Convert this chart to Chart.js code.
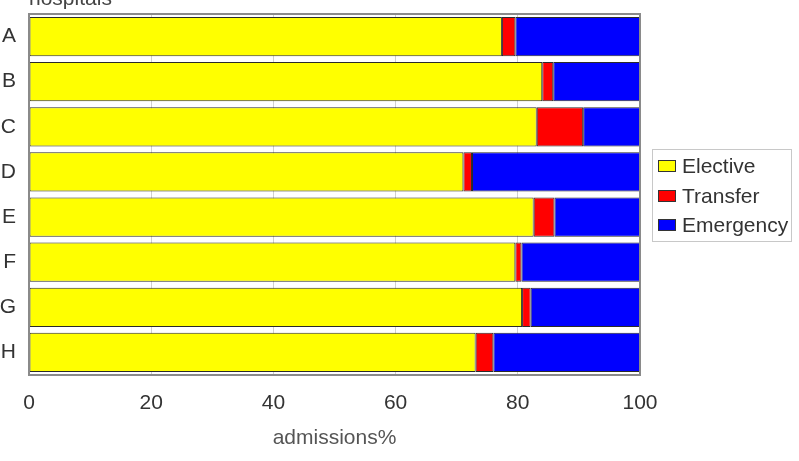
<!DOCTYPE html>
<html>
<head>
<meta charset="utf-8">
<script src="https://cdn.jsdelivr.net/npm/chart.js@4/dist/chart.umd.min.js"></script>
<style>
  html, body { margin: 0; padding: 0; background: #ffffff; }
  #wrap { width: 799px; height: 461px; position: relative; }
</style>
</head>
<body>
<div id="wrap"><canvas id="c" width="799" height="461"></canvas></div>
<script>
const categories = ['A', 'B', 'C', 'D', 'E', 'F', 'G', 'H'];
const elective   = [77.4, 84.0, 83.1, 71.1, 82.6, 79.6, 80.7, 73.1];
const transfer   = [2.2, 1.8, 7.6, 1.4, 3.4, 1.0, 1.4, 2.9];
const emergency  = [20.4, 14.2, 9.3, 27.5, 14.0, 19.4, 17.9, 24.0];
const seriesNames = ['Elective', 'Transfer', 'Emergency'];
const xTicks = [0, 20, 40, 60, 80, 100];
const xTitle = 'admissions%';
const yTitle = 'hospitals';

const FONT = "'Liberation Sans', Arial, Helvetica, sans-serif";
const colors = ['#ffff00', '#ff0000', '#0000ff'];

const framePlugin = {
  id: 'frame',
  afterDatasetsDraw(chart) {
    const {ctx, chartArea: a} = chart;
    ctx.save();
    ctx.strokeStyle = '#8a8a8a';
    ctx.lineWidth = 2;
    ctx.strokeRect(a.left, a.top, a.right - a.left, a.bottom - a.top);
    ctx.restore();
  },
  afterDraw(chart) {
    const {ctx, chartArea: a} = chart;
    ctx.save();
    ctx.font = '21px ' + FONT;
    ctx.fillStyle = '#444';
    ctx.textAlign = 'left';
    ctx.textBaseline = 'alphabetic';
    ctx.fillText(yTitle, a.left, 5);
    const lx = 652, ly = 149, lw = 139, lh = 92;
    ctx.fillStyle = '#ffffff';
    ctx.fillRect(lx, ly, lw, lh);
    ctx.strokeStyle = '#c8c8c8';
    ctx.lineWidth = 1;
    ctx.strokeRect(lx + 0.5, ly + 0.5, lw, lh);
    const rows = [166, 196, 225];
    chart.data.datasets.forEach((ds, i) => {
      const cy = rows[i];
      ctx.fillStyle = ds.backgroundColor;
      ctx.fillRect(658, cy - 6, 18, 12);
      ctx.strokeStyle = '#333';
      ctx.strokeRect(658.5, cy - 5.5, 17, 11);
      ctx.fillStyle = '#333';
      ctx.textBaseline = 'middle';
      ctx.fillText(ds.label, 682, cy + 1);
    });
    ctx.restore();
  }
};

new Chart(document.getElementById('c'), {
  type: 'bar',
  data: {
    labels: categories,
    datasets: [
      { label: seriesNames[0], data: elective,  backgroundColor: colors[0] },
      { label: seriesNames[1], data: transfer,  backgroundColor: colors[1] },
      { label: seriesNames[2], data: emergency, backgroundColor: colors[2] }
    ].map(d => Object.assign(d, {
      borderColor: '#2a2a2a', borderWidth: 1, borderSkipped: false,
      categoryPercentage: 1.0, barPercentage: 0.87
    }))
  },
  options: {
    indexAxis: 'y',
    responsive: false,
    animation: false,
    devicePixelRatio: 1,
    layout: { padding: { top: 14, right: 159, left: 0, bottom: 0 } },
    plugins: { legend: { display: false }, tooltip: { enabled: false } },
    scales: {
      x: {
        stacked: true,
        min: 0, max: 100,
        afterBuildTicks(scale) { scale.ticks = xTicks.map(v => ({ value: v })); },
        afterFit(scale) { scale.height = 86; },
        grid: { color: '#cfcfcf', drawTicks: false, lineWidth: 1 },
        border: { display: false },
        ticks: { color: '#333', font: { family: FONT, size: 21 }, padding: 16, maxRotation: 0 },
        title: { display: true, text: xTitle, color: '#555', font: { family: FONT, size: 21 }, padding: { top: 0, bottom: 10 } }
      },
      y: {
        stacked: true,
        afterFit(scale) { scale.width = 29; scale.paddingTop = 0; scale.paddingBottom = 0; },
        grid: { display: false, drawTicks: false },
        border: { display: false },
        ticks: { color: '#333', font: { family: FONT, size: 21 }, padding: 13 }
      }
    }
  },
  plugins: [framePlugin]
});
</script>
</body>
</html>
